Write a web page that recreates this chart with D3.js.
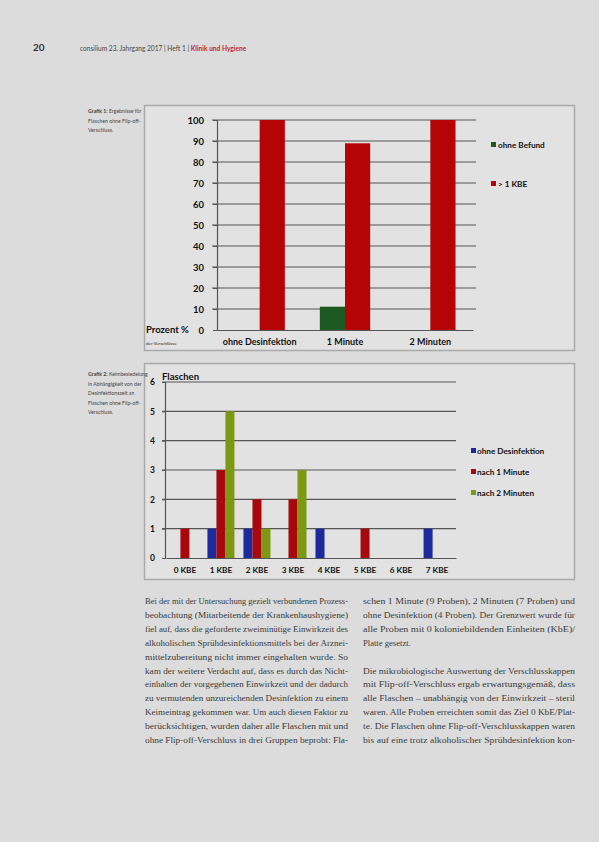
<!DOCTYPE html>
<html><head><meta charset="utf-8">
<script src="https://cdn.jsdelivr.net/npm/d3@7"></script>
<style>
html,body{margin:0;padding:0;background:#dcdcdc;}
svg{display:block;}
</style></head>
<body>
<script>
// ---------- DATA ----------
const chart1Categories = ["ohne Desinfektion", "1 Minute", "2 Minuten"];
const chart1Series = ["ohne Befund", "> 1 KBE"];
const chart1OhneBefund = [0, 11.1, 0];
const chart1Ueber1KBE = [100, 88.9, 100];
const chart1Ticks = [0, 10, 20, 30, 40, 50, 60, 70, 80, 90, 100];

const chart2Categories = ["0 KBE", "1 KBE", "2 KBE", "3 KBE", "4 KBE", "5 KBE", "6 KBE", "7 KBE"];
const chart2Series = ["ohne Desinfektion", "nach 1 Minute", "nach 2 Minuten"];
const chart2OhneDesinfektion = [0, 1, 1, 0, 1, 0, 0, 1];
const chart2Nach1Minute = [1, 3, 2, 2, 0, 1, 0, 0];
const chart2Nach2Minuten = [0, 5, 1, 3, 0, 0, 0, 0];
const chart2Ticks = [0, 1, 2, 3, 4, 5, 6];

const leftColumn = [
 "Bei der mit der Untersuchung gezielt verbundenen Prozess-",
 "beobachtung (Mitarbeitende der Krankenhaushygiene)",
 "fiel auf, dass die geforderte zweiminütige Einwirkzeit des",
 "alkoholischen Sprühdesinfektionsmittels bei der Arznei-",
 "mittelzubereitung nicht immer eingehalten wurde. So",
 "kam der weitere Verdacht auf, dass es durch das Nicht-",
 "einhalten der vorgegebenen Einwirkzeit und der dadurch",
 "zu vermutenden unzureichenden Desinfektion zu einem",
 "Keimeintrag gekommen war. Um auch diesen Faktor zu",
 "berücksichtigen, wurden daher alle Flaschen mit und",
 "ohne Flip-off-Verschluss in drei Gruppen beprobt: Fla-"
];
const rightColumn = [
 "schen 1 Minute (9 Proben), 2 Minuten (7 Proben) und",
 "ohne Desinfektion (4 Proben). Der Grenzwert wurde für",
 "alle Proben mit 0 koloniebildenden Einheiten (KbE)/",
 "Platte gesetzt.",
 "",
 "Die mikrobiologische Auswertung der Verschlusskappen",
 "mit Flip-off-Verschluss ergab erwartungsgemäß, dass",
 "alle Flaschen – unabhängig von der Einwirkzeit – steril",
 "waren. Alle Proben erreichten somit das Ziel 0 KbE/Plat-",
 "te. Die Flaschen ohne Flip-off-Verschlusskappen waren",
 "bis auf eine trotz alkoholischer Sprühdesinfektion kon-"
];

// ---------- PAGE ----------
const W = 599, H = 842;
const svg = d3.select("body").append("svg").attr("width", W).attr("height", H);
svg.append("rect").attr("width", W).attr("height", H).attr("fill", "#dcdcdc");

const sans = "Lato, 'Liberation Sans', sans-serif";
const serif = "'Liberation Serif', 'DejaVu Serif', serif";

// header
svg.append("text").attr("x", 33).attr("y", 51).attr("font-family", sans).attr("font-weight", 700)
  .attr("font-size", 10).attr("fill", "#333").text("20");
const hdr = svg.append("text").attr("x", 80).attr("y", 51).attr("font-family", sans)
  .attr("font-size", 6.6).attr("fill", "#444");
hdr.append("tspan").text("consilium 23. Jahrgang 2017 | Heft 1 | ");
hdr.append("tspan").attr("fill", "#c0282d").attr("font-weight", 700).text("Klinik und Hygiene");

// ---------- CHART 1 ----------
const c1 = svg.append("g");
c1.append("rect").attr("x", 144.5).attr("y", 105.5).attr("width", 430).attr("height", 245)
  .attr("fill", "#e2e2e2").attr("stroke", "#a9a9a9").attr("stroke-width", 1.5);

const y1 = d3.scaleLinear().domain([0, 100]).range([330, 120]);
const x1 = d3.scaleBand().domain(chart1Categories).range([217, 473]).paddingInner(0.41).paddingOuter(0.205);
const x1s = d3.scaleBand().domain(chart1Series).range([0, x1.bandwidth()]);
const color1 = d3.scaleOrdinal().domain(chart1Series).range(["#1d5a22", "#b50406"]);

c1.append("g").selectAll("line").data(chart1Ticks.filter(d => d > 0)).join("line")
  .attr("x1", 212).attr("x2", 476).attr("y1", d => y1(d)).attr("y2", d => y1(d))
  .attr("stroke", "#555").attr("stroke-width", 1.2);

const yAx1 = c1.append("g").attr("transform", "translate(217,0)")
  .call(d3.axisLeft(y1).tickValues(chart1Ticks).tickFormat(d3.format("d")).tickSize(4).tickPadding(9));
yAx1.select(".domain").attr("stroke", "#555").attr("stroke-width", 1.2);
yAx1.selectAll(".tick line").attr("stroke", "#555");
yAx1.selectAll("text").attr("font-family", sans).attr("font-weight", 700).attr("font-size", 9.5).attr("fill", "#111");

const xAx1 = c1.append("g").attr("transform", "translate(0,330)")
  .call(d3.axisBottom(x1).tickSize(0).tickPadding(9));
xAx1.select(".domain").attr("stroke", "#555").attr("stroke-width", 1.2);
xAx1.selectAll("text").attr("font-family", sans).attr("font-weight", 700).attr("font-size", 9).attr("fill", "#111");

const rows1 = chart1Categories.map((c, i) => ({ cat: c, vals: [chart1OhneBefund[i], chart1Ueber1KBE[i]] }));
c1.append("g").selectAll("g").data(rows1).join("g")
  .attr("transform", d => `translate(${x1(d.cat)},0)`)
  .selectAll("rect").data(d => d.vals.map((v, j) => ({ s: chart1Series[j], v })))
  .join("rect")
  .attr("x", d => x1s(d.s)).attr("width", x1s.bandwidth())
  .attr("y", d => y1(d.v)).attr("height", d => y1(0) - y1(d.v))
  .attr("fill", d => color1(d.s));

const lg1 = c1.append("g");
[[chart1Series[0], 145], [chart1Series[1], 184]].forEach(([s, y]) => {
  lg1.append("rect").attr("x", 491).attr("y", y - 3).attr("width", 5).attr("height", 5).attr("fill", color1(s));
  lg1.append("text").attr("x", 498).attr("y", y + 2.5).attr("font-family", sans).attr("font-weight", 700)
    .attr("font-size", 8.2).attr("fill", "#111").text(s);
});

c1.append("text").attr("x", 146).attr("y", 333).attr("font-family", sans).attr("font-weight", 700)
  .attr("font-size", 9.5).attr("fill", "#111").text("Prozent %");
c1.append("text").attr("x", 146).attr("y", 345).attr("font-family", sans)
  .attr("font-size", 4.5).attr("fill", "#222").text("der Verschlüsse");

// ---------- CHART 2 ----------
const c2 = svg.append("g");
c2.append("rect").attr("x", 144.5).attr("y", 363.5).attr("width", 430).attr("height", 216)
  .attr("fill", "#e2e2e2").attr("stroke", "#a9a9a9").attr("stroke-width", 1.5);

const y2 = d3.scaleLinear().domain([0, 6]).range([558, 382]);
const x2 = d3.scaleBand().domain(chart2Categories).range([166, 456]).paddingInner(0.25).paddingOuter(0.15);
const x2s = d3.scaleBand().domain(chart2Series).range([0, x2.bandwidth()]);
const color2 = d3.scaleOrdinal().domain(chart2Series).range(["#1c2a9c", "#a8080c", "#7d9812"]);

c2.append("g").selectAll("line").data(chart2Ticks.filter(d => d > 0)).join("line")
  .attr("x1", 162).attr("x2", 456).attr("y1", d => y2(d)).attr("y2", d => y2(d))
  .attr("stroke", "#555").attr("stroke-width", 1.2);

const yAx2 = c2.append("g").attr("transform", "translate(165,0)")
  .call(d3.axisLeft(y2).tickValues(chart2Ticks).tickFormat(d3.format("d")).tickSize(3).tickPadding(7));
yAx2.select(".domain").attr("stroke", "#555").attr("stroke-width", 1.2);
yAx2.selectAll(".tick line").attr("stroke", "#555");
yAx2.selectAll("text").attr("font-family", sans).attr("font-weight", 700).attr("font-size", 8.5).attr("fill", "#111");

const xAx2 = c2.append("g").attr("transform", "translate(0,558)")
  .call(d3.axisBottom(x2).tickSize(0).tickPadding(9));
xAx2.select(".domain").attr("stroke", "#555").attr("stroke-width", 1.2);
xAx2.selectAll("text").attr("font-family", sans).attr("font-weight", 700).attr("font-size", 8.2).attr("fill", "#111");

const rows2 = chart2Categories.map((c, i) => ({ cat: c, vals: [chart2OhneDesinfektion[i], chart2Nach1Minute[i], chart2Nach2Minuten[i]] }));
c2.append("g").selectAll("g").data(rows2).join("g")
  .attr("transform", d => `translate(${x2(d.cat)},0)`)
  .selectAll("rect").data(d => d.vals.map((v, j) => ({ s: chart2Series[j], v })))
  .join("rect")
  .attr("x", d => x2s(d.s)).attr("width", x2s.bandwidth())
  .attr("y", d => y2(d.v)).attr("height", d => y2(0) - y2(d.v))
  .attr("fill", d => color2(d.s));

const lg2 = c2.append("g");
chart2Series.forEach((s, i) => {
  const y = 451 + i * 21;
  lg2.append("rect").attr("x", 471).attr("y", y - 3).attr("width", 5).attr("height", 5).attr("fill", color2(s));
  lg2.append("text").attr("x", 477).attr("y", y + 2.5).attr("font-family", sans).attr("font-weight", 700)
    .attr("font-size", 8.2).attr("fill", "#111").text(s);
});

c2.append("text").attr("x", 162).attr("y", 380).attr("font-family", sans).attr("font-weight", 700)
  .attr("font-size", 9.5).attr("fill", "#111").text("Flaschen");

// captions (left of the chart frames)
function caption(y, bold, lines) {
  const t = svg.append("text").attr("font-family", sans).attr("font-size", 5.2).attr("fill", "#444");
  lines.forEach((l, i) => {
    const ts = t.append("tspan").attr("x", 88).attr("y", y + i * 9.6);
    if (i === 0) { ts.append("tspan").attr("font-weight", 700).text(bold); ts.append("tspan").text(l); }
    else ts.text(l);
  });
}
caption(113, "Grafik 1: ", ["Ergebnisse für", "Flaschen ohne Flip-off-", "Verschluss."]);
caption(376, "Grafik 2: ", ["Keimbesiedelung", "in Abhängigkeit von der", "Desinfektionszeit an", "Flaschen ohne Flip-off-", "Verschluss."]);

// ---------- BODY TEXT ----------
function column(lines, x, w, y0, lh) {
  const g = svg.append("g");
  lines.forEach((l, i) => {
    if (!l) return;
    const next = lines[i + 1];
    const last = (next === undefined) ? false : (next === "");
    const t = g.append("text").attr("x", x).attr("y", y0 + i * lh)
      .attr("font-family", serif).attr("font-size", 8.6).attr("fill", "#3a3a3a").text(l);
    if (!last) t.attr("textLength", w).attr("lengthAdjust", "spacingAndGlyphs");
  });
}
column(leftColumn, 145, 203, 604, 13.9);
column(rightColumn, 363, 212, 604, 13.9);
</script>
</body></html>
